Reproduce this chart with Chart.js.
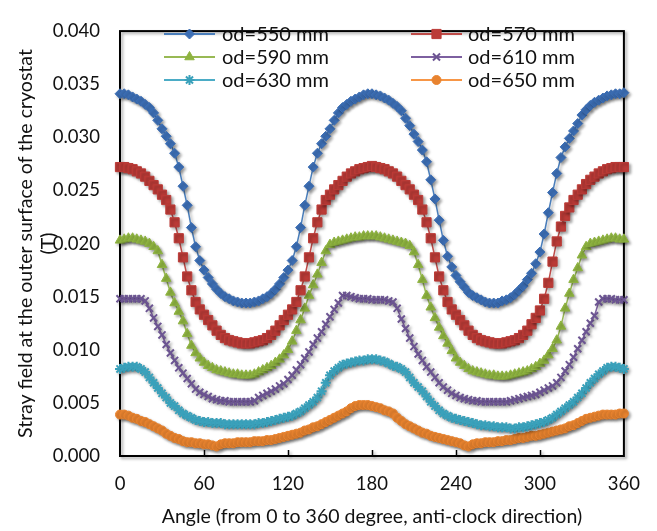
<!DOCTYPE html>
<html>
<head>
<meta charset="utf-8">
<script src="https://cdn.jsdelivr.net/npm/chart.js@4/dist/chart.umd.min.js"></script>
<style>
  html, body { margin: 0; padding: 0; background: #fff; }
  #chart { display: block; }
</style>
</head>
<body>
<canvas id="chart" width="657" height="531"></canvas>
<script>
// angle in degrees, every 3 degrees
const angles = [
    0, 3, 6, 9, 12, 15, 18, 21, 24, 27, 30, 33, 36, 39, 42, 45, 48, 51, 54, 57,
    60, 63, 66, 69, 72, 75, 78, 81, 84, 87, 90, 93, 96, 99, 102, 105, 108, 111, 114, 117,
    120, 123, 126, 129, 132, 135, 138, 141, 144, 147, 150, 153, 156, 159, 162, 165, 168, 171, 174, 177,
    180, 183, 186, 189, 192, 195, 198, 201, 204, 207, 210, 213, 216, 219, 222, 225, 228, 231, 234, 237,
    240, 243, 246, 249, 252, 255, 258, 261, 264, 267, 270, 273, 276, 279, 282, 285, 288, 291, 294, 297,
    300, 303, 306, 309, 312, 315, 318, 321, 324, 327, 330, 333, 336, 339, 342, 345, 348, 351, 354, 357,
    360
];

const od550 = [
    .0341, .0341, .0340, .0338, .0336, .0334, .0331, .0328, .0323, .0316, .0308, .0301, .0294, .0285, .0272, .0254,
    .0236, .0215, .0197, .0184, .0175, .0168, .0162, .0157, .0153, .0150, .0148, .0146, .0145, .0144, .0144,
    .0144, .0145, .0146, .0148, .0150, .0153, .0157, .0162, .0168, .0175, .0184, .0197, .0215, .0236, .0254,
    .0272, .0285, .0294, .0301, .0308, .0316, .0323, .0328, .0331, .0334, .0336, .0338, .0340, .0341, .0341,
    .0340, .0339, .0337, .0335, .0332, .0329, .0325, .0318, .0311, .0303, .0296, .0288, .0277, .0260, .0242,
    .0222, .0203, .0188, .0178, .0170, .0164, .0159, .0154, .0151, .0149, .0147, .0145, .0144, .0144, .0144,
    .0146, .0147, .0149, .0152, .0156, .0160, .0166, .0172, .0181, .0192, .0209, .0229, .0248, .0266, .0281,
    .0291, .0299, .0306, .0313, .0321, .0326, .0330, .0333, .0335, .0337, .0339, .0340, .0341, .0341, .0342
];

const od570 = [
    .0272, .0272, .0271, .0270, .0268, .0266, .0263, .0259, .0255, .0251, .0246, .0241, .0232, .0220, .0205, .0187,
    .0169, .0156, .0145, .0138, .0133, .0128, .0123, .0118, .0114, .0111, .0109, .0108, .0107, .0106, .0106,
    .0106, .0107, .0108, .0109, .0111, .0114, .0118, .0123, .0128, .0133, .0138, .0145, .0156, .0169, .0187,
    .0205, .0220, .0232, .0241, .0246, .0251, .0255, .0259, .0263, .0266, .0268, .0270, .0271, .0272, .0273,
    .0272, .0271, .0270, .0268, .0266, .0263, .0259, .0255, .0251, .0246, .0241, .0232, .0220, .0205, .0187,
    .0169, .0156, .0145, .0138, .0133, .0128, .0123, .0118, .0114, .0111, .0109, .0108, .0107, .0106, .0106,
    .0106, .0107, .0108, .0109, .0111, .0114, .0118, .0124, .0130, .0137, .0148, .0163, .0183, .0202, .0216,
    .0226, .0234, .0241, .0246, .0251, .0256, .0260, .0263, .0266, .0268, .0270, .0271, .0272, .0272, .0272
];

const od590 = [
    .0203, .0204, .0205, .0205, .0204, .0203, .0202, .0200, .0197, .0193, .0180, .0167, .0154, .0144, .0136, .0127,
    .0115, .0104, .0097, .0092, .0088, .0085, .0083, .0081, .0080, .0079, .0078, .0077, .0077, .0076, .0076,
    .0076, .0077, .0079, .0081, .0083, .0085, .0088, .0091, .0095, .0100, .0108, .0118, .0128, .0139, .0151,
    .0161, .0171, .0182, .0193, .0199, .0201, .0202, .0203, .0204, .0205, .0206, .0206, .0207, .0207, .0207,
    .0207, .0206, .0205, .0204, .0203, .0202, .0201, .0200, .0198, .0192, .0180, .0166, .0151, .0140, .0130,
    .0121, .0113, .0106, .0099, .0092, .0088, .0085, .0082, .0080, .0079, .0078, .0077, .0076, .0076, .0075,
    .0075, .0075, .0076, .0077, .0078, .0079, .0080, .0082, .0084, .0087, .0090, .0095, .0101, .0109, .0122,
    .0139, .0153, .0166, .0177, .0189, .0197, .0200, .0201, .0202, .0203, .0204, .0205, .0205, .0204, .0204
];

const od610 = [
    .0148, .0148, .0148, .0148, .0148, .0148, .0146, .0139, .0130, .0122, .0114, .0105, .0097, .0090, .0083, .0078,
    .0073, .0068, .0063, .0060, .0058, .0056, .0054, .0053, .0052, .0052, .0051, .0051, .0051, .0051, .0051,
    .0051, .0052, .0055, .0057, .0059, .0061, .0063, .0066, .0068, .0072, .0076, .0081, .0086, .0092, .0098,
    .0105, .0111, .0117, .0124, .0131, .0138, .0144, .0151, .0151, .0150, .0149, .0148, .0148, .0148, .0147,
    .0147, .0147, .0147, .0146, .0145, .0139, .0129, .0120, .0111, .0103, .0096, .0090, .0084, .0079, .0074,
    .0069, .0065, .0062, .0059, .0057, .0055, .0054, .0053, .0052, .0052, .0051, .0051, .0051, .0051, .0051,
    .0051, .0051, .0052, .0053, .0054, .0055, .0056, .0057, .0058, .0060, .0062, .0064, .0066, .0069, .0074,
    .0080, .0086, .0093, .0101, .0109, .0117, .0125, .0132, .0145, .0148, .0148, .0148, .0147, .0147, .0147
];

const od630 = [
    .0082, .0083, .0084, .0084, .0084, .0082, .0079, .0074, .0069, .0064, .0059, .0055, .0050, .0047, .0043, .0040,
    .0038, .0036, .0034, .0033, .0032, .0032, .0031, .0031, .0031, .0030, .0030, .0030, .0030, .0030, .0030,
    .0030, .0030, .0031, .0031, .0032, .0033, .0034, .0035, .0036, .0037, .0038, .0040, .0042, .0045, .0048,
    .0051, .0055, .0061, .0069, .0076, .0080, .0083, .0086, .0087, .0088, .0089, .0090, .0090, .0091, .0091,
    .0091, .0090, .0089, .0087, .0085, .0084, .0082, .0079, .0074, .0069, .0065, .0061, .0056, .0051, .0047,
    .0043, .0040, .0038, .0036, .0035, .0034, .0033, .0032, .0031, .0030, .0029, .0029, .0028, .0028, .0027,
    .0027, .0027, .0026, .0026, .0027, .0027, .0028, .0029, .0030, .0031, .0032, .0034, .0036, .0039, .0042,
    .0045, .0048, .0051, .0055, .0059, .0064, .0069, .0073, .0077, .0080, .0083, .0084, .0084, .0083, .0082
];

const od650 = [
    .0039, .0039, .0038, .0036, .0035, .0033, .0032, .0030, .0028, .0026, .0024, .0021, .0019, .0017, .0016, .0014,
    .0013, .0013, .0012, .0012, .0011, .0011, .0010, .0009, .0011, .0012, .0012, .0012, .0013, .0013, .0013,
    .0013, .0014, .0014, .0014, .0015, .0015, .0016, .0017, .0018, .0019, .0020, .0021, .0022, .0024, .0025,
    .0027, .0028, .0030, .0032, .0034, .0036, .0038, .0040, .0042, .0045, .0047, .0048, .0048, .0048, .0047,
    .0046, .0045, .0043, .0042, .0040, .0036, .0033, .0030, .0028, .0026, .0024, .0022, .0021, .0019, .0018,
    .0017, .0016, .0015, .0014, .0013, .0012, .0010, .0009, .0011, .0012, .0012, .0013, .0013, .0013, .0014,
    .0014, .0015, .0015, .0016, .0017, .0017, .0018, .0019, .0019, .0020, .0021, .0022, .0023, .0024, .0025,
    .0026, .0028, .0029, .0031, .0033, .0035, .0036, .0037, .0038, .0039, .0039, .0039, .0039, .0040, .0040
];

const seriesLabels = ['od=550 mm', 'od=570 mm', 'od=590 mm', 'od=610 mm', 'od=630 mm', 'od=650 mm'];
const xTicks = [0, 60, 120, 180, 240, 300, 360];
const yTicks = [0, 0.005, 0.010, 0.015, 0.020, 0.025, 0.030, 0.035, 0.040];

const FONT = 'Lato, "Open Sans", "Noto Sans", sans-serif';
const TEXT = '#111';

const styles = [
    { line: '#4A7EBB', fill: '#3C6EB4', point: 'rectRot', r: 5 },
    { line: '#BE4B48', fill: '#BB3B37', point: 'rect', r: 6.5 },
    { line: '#98B954', fill: '#8EB340', point: 'triangle', r: 5.5 },
    { line: '#7D60A0', fill: '#6C5592', point: 'crossRot', r: 5 },
    { line: '#4BACC6', fill: '#3AA1BB', point: 'star', r: 5 },
    { line: '#F79646', fill: '#E8832F', point: 'circle', r: 4.5 }
];

const values = [od550, od570, od590, od610, od630, od650];

function toPoints(arr) {
    return angles.map((a, i) => ({ x: a, y: arr[i] }));
}

const datasets = values.map((arr, i) => {
    const s = styles[i];
    const stroked = s.point === 'crossRot' || s.point === 'star';
    return {
        label: seriesLabels[i],
        data: toPoints(arr),
        borderColor: s.line,
        borderWidth: 1.5,
        pointStyle: s.point,
        pointRadius: s.r,
        pointBackgroundColor: s.fill,
        pointBorderColor: s.fill,
        pointBorderWidth: stroked ? 2 : 1,
        tension: 0,
        clip: false
    };
});

// marker shadows like the office chart effect
const shadowPlugin = {
    id: 'shadow',
    beforeDatasetsDraw(chart) {
        const ctx = chart.ctx;
        ctx.save();
        ctx.shadowColor = 'rgba(0,0,0,0.35)';
        ctx.shadowBlur = 3;
        ctx.shadowOffsetX = 2;
        ctx.shadowOffsetY = 2;
    },
    afterDatasetsDraw(chart) {
        chart.ctx.restore();
    }
};

// plot frame and inner tick marks on the x axis
const framePlugin = {
    id: 'frame',
    beforeDatasetsDraw(chart) {
        const { ctx, chartArea: a } = chart;
        const xs = chart.scales.x;
        ctx.save();
        ctx.strokeStyle = '#000';
        ctx.lineWidth = 2;
        ctx.strokeRect(a.left, a.top, a.right - a.left, a.bottom - a.top);
        ctx.lineWidth = 1.5;
        ctx.beginPath();
        xTicks.slice(1, -1).forEach(v => {
            const px = Math.round(xs.getPixelForValue(v)) + 0.5;
            ctx.moveTo(px, a.bottom);
            ctx.lineTo(px, a.bottom - 6);
        });
        ctx.stroke();
        ctx.restore();
    }
};

// legend inside the plot, two columns
const legendPlugin = {
    id: 'insideLegend',
    afterDraw(chart) {
        const ctx = chart.ctx;
        const cols = [{ x0: 164, x1: 215, tx: 222 }, { x0: 411, x1: 462, tx: 468 }];
        const rows = [34, 57, 80];
        ctx.save();
        ctx.font = '20px ' + FONT;
        ctx.textBaseline = 'middle';
        chart.data.datasets.forEach((ds, i) => {
            const c = cols[i % 2];
            const y = rows[Math.floor(i / 2)];
            ctx.strokeStyle = ds.borderColor;
            ctx.lineWidth = 2;
            ctx.beginPath();
            ctx.moveTo(c.x0, y);
            ctx.lineTo(c.x1, y);
            ctx.stroke();
            ctx.fillStyle = ds.pointBackgroundColor;
            ctx.strokeStyle = ds.pointBorderColor;
            ctx.lineWidth = ds.pointBorderWidth;
            Chart.helpers.drawPoint(ctx, {
                pointStyle: ds.pointStyle,
                radius: ds.pointRadius,
                rotation: 0,
                borderWidth: ds.pointBorderWidth
            }, (c.x0 + c.x1) / 2, y);
            ctx.fillStyle = TEXT;
            ctx.fillText(ds.label, c.tx, y + 1);
        });
        ctx.restore();
    }
};

new Chart(document.getElementById('chart'), {
    type: 'line',
    data: { datasets },
    options: {
        responsive: false,
        animation: false,
        layout: { padding: { top: 14, right: 29, bottom: 0, left: 0 } },
        plugins: {
            legend: { display: false },
            tooltip: { enabled: false }
        },
        scales: {
            x: {
                type: 'linear',
                min: 0,
                max: 360,
                afterFit: s => { s.height = 75; },
                afterBuildTicks: s => { s.ticks = xTicks.map(v => ({ value: v })); },
                grid: { display: false, drawTicks: false },
                border: { display: false },
                ticks: {
                    color: TEXT,
                    padding: 17,
                    maxRotation: 0,
                    font: { family: FONT, size: 18.5 }
                },
                title: {
                    display: true,
                    text: 'Angle (from 0 to 360 degree, anti-clock direction)',
                    color: TEXT,
                    font: { family: FONT, size: 19.5 },
                    padding: { top: 0, bottom: 3 }
                }
            },
            y: {
                min: 0,
                max: 0.04,
                afterFit: s => { s.width = 120; },
                afterBuildTicks: s => { s.ticks = yTicks.map(v => ({ value: v })); },
                grid: { display: false, drawTicks: false },
                border: { display: false },
                ticks: {
                    color: TEXT,
                    padding: 20,
                    font: { family: FONT, size: 18.5 },
                    callback: v => Number(v).toFixed(3)
                },
                title: {
                    display: true,
                    text: ['Stray field at the outer surface of the cryostat', '(T)'],
                    color: TEXT,
                    font: { family: FONT, size: 19.5, lineHeight: 1.18 },
                    padding: { top: 14, bottom: 0 }
                }
            }
        }
    },
    plugins: [shadowPlugin, framePlugin, legendPlugin]
});
</script>
</body>
</html>
